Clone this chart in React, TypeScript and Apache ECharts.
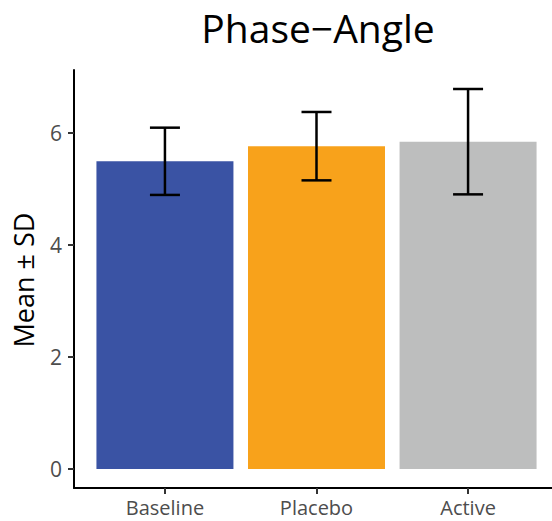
import React, { useEffect, useRef } from "react";
import * as echarts from "echarts";

const categories = ["Baseline", "Placebo", "Active"];
const means = [5.49, 5.76, 5.84];
const sds = [0.6, 0.61, 0.94];
const colors = ["#3A53A4", "#F8A21B", "#BDBEBE"];
const yTicks = [0, 2, 4, 6];
const chartTitle = "Phase\u2212Angle";
const yTitle = "Mean \u00b1 SD";

const FONT = "'Open Sans', 'Noto Sans', sans-serif";

export default function App() {
  const ref = useRef<HTMLDivElement>(null);
  useEffect(() => {
    document.body.style.margin = "0";
    const chart = echarts.init(ref.current!, undefined, { renderer: "svg" });
    const xs = categories.map((_, i) => i + 1);
    const top = Math.max(...means.map((m, i) => m + sds[i]));
    const pad = top * 0.05;
    chart.setOption({
      animation: false,
      textStyle: { fontFamily: FONT },
      grid: { left: 74, top: 70, width: 485, height: 418, outerBoundsMode: "none" },
      graphic: [
        {
          type: "text",
          x: 318,
          y: 8,
          style: { text: chartTitle, fontSize: 39, fontFamily: FONT, fill: "#000", textAlign: "center", textVerticalAlign: "top" },
        },
        {
          type: "text",
          x: 23,
          y: 280,
          rotation: Math.PI / 2,
          style: { text: yTitle, fontSize: 27, fontFamily: FONT, fill: "#000", textAlign: "center", textVerticalAlign: "middle" },
        },
      ],
      xAxis: {
        type: "value",
        min: 0.4,
        max: 3.6,
        splitLine: { show: false },
        axisLine: { show: true, onZero: false, lineStyle: { color: "#000", width: 2 } },
        axisTick: { show: true, customValues: xs, length: 6, lineStyle: { color: "#333", width: 2 } },
        axisLabel: {
          customValues: xs,
          formatter: (v: number) => categories[Math.round(v) - 1] ?? "",
          color: "#4D4D4D",
          fontSize: 20,
          margin: 9,
          fontFamily: FONT,
        },
      },
      yAxis: {
        type: "value",
        min: -pad,
        max: top + pad,
        splitLine: { show: false },
        axisLine: { show: true, onZero: false, lineStyle: { color: "#000", width: 2 } },
        axisTick: { show: true, customValues: yTicks, length: 6, lineStyle: { color: "#333", width: 2 } },
        axisLabel: {
          customValues: yTicks,
          color: "#4D4D4D",
          fontSize: 21,
          margin: 12,
          fontFamily: FONT,
        },
      },
      series: [
        {
          type: "bar",
          barWidth: 137,
          data: means.map((m, i) => ({ value: [xs[i], m], itemStyle: { color: colors[i] } })),
        },
        {
          type: "custom",
          data: means.map((m, i) => [xs[i], m - sds[i], m + sds[i]]),
          renderItem: (params: any, api: any) => {
            const x = api.value(0);
            const lo = api.coord([x, api.value(1)]);
            const hi = api.coord([x, api.value(2)]);
            const half = 15;
            const style = { stroke: "#000", lineWidth: 2.5 };
            return {
              type: "group",
              children: [
                { type: "line", shape: { x1: lo[0], y1: lo[1], x2: hi[0], y2: hi[1] }, style },
                { type: "line", shape: { x1: lo[0] - half, y1: lo[1], x2: lo[0] + half, y2: lo[1] }, style },
                { type: "line", shape: { x1: hi[0] - half, y1: hi[1], x2: hi[0] + half, y2: hi[1] }, style },
              ],
            };
          },
          z: 5,
        },
      ],
    });
    return () => chart.dispose();
  }, []);
  return <div ref={ref} style={{ width: 552, height: 521 }} />;
}
